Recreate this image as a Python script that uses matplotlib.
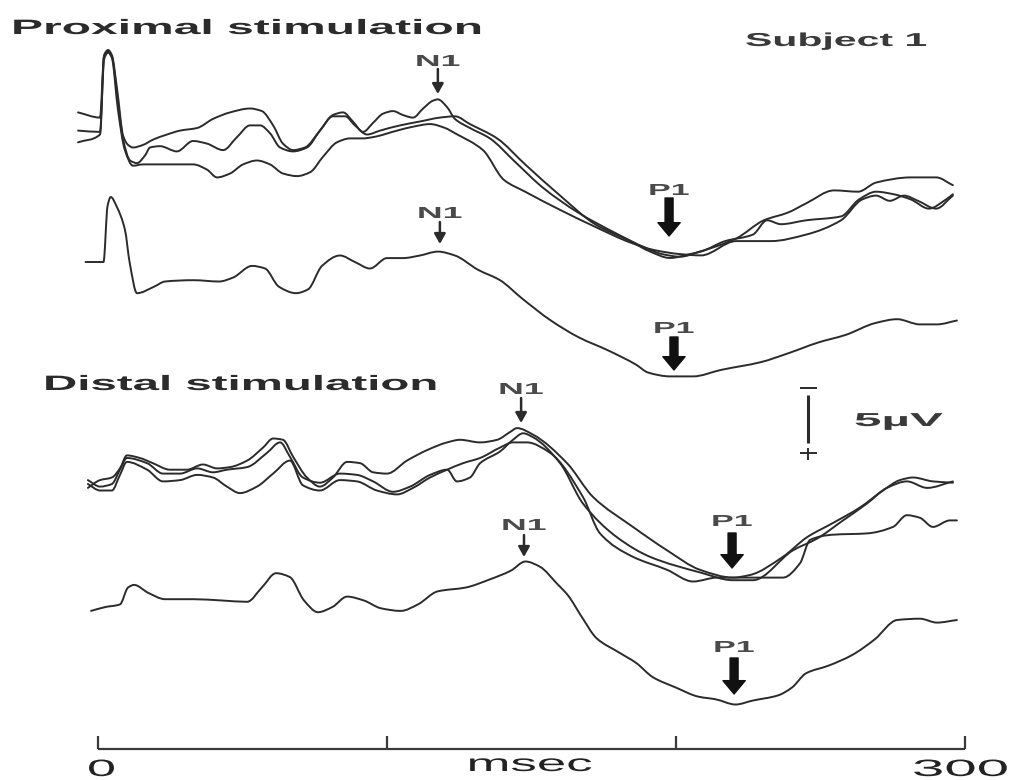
import numpy as np
import matplotlib
matplotlib.use("Agg")
import matplotlib.pyplot as plt
from matplotlib.patheffects import AbstractPathEffect
from matplotlib.transforms import Affine2D
from matplotlib.path import Path
from matplotlib.patches import PathPatch

# ---------------------------------------------------------------- data
# Evoked responses, subject 1: time in ms, amplitude in µV (negative up)

# Proximal stimulation, three single runs
prox_t1 = [-6.9, 0.7, 2.1, 3.5, 4.8, 6.6, 8.7, 10.4, 12.1, 15.6, 19.0, 23.9, 28.4, 34.3,
           39.8, 45.7, 52.6, 56.7, 60.6, 64.0, 67.5, 71.6, 76.8, 81.3, 84.8, 88.2, 91.7,
           95.2, 98.6, 102.1, 105.5, 109.0, 112.5, 115.9, 117.6, 120.8, 123.5, 128.7,
           135.6, 144.3, 154.0, 166.1, 179.2, 189.3, 195.2, 201.4, 208.3, 220.8, 230.4,
           238.8, 245.0, 254.7, 263.0, 269.2, 281.3, 290.0, 295.8]
prox_v1 = [-1.2, -0.8, -5.6, -6.0, -5.6, -3.0, 0.6, 1.3, 1.5, 1.3, 0.9, 0.5, 0.2, 0.0,
           -0.7, -1.2, -1.5, -1.3, -0.2, 1.2, 1.7, 1.5, 0.2, -1.0, -1.2, -0.5, 0.3,
           -0.4, -1.1, -1.3, -1.0, -0.8, -1.5, -2.1, -2.2, -1.6, -0.7, 0.0,
           0.8, 2.6, 4.6, 6.5, 8.1, 9.2, 9.7, 9.9, 9.5, 8.5, 7.1,
           6.5, 5.8, 4.8, 4.9, 4.2, 3.8, 3.8, 4.4]

prox_t2 = [-6.9, 0.7, 2.1, 3.5, 4.8, 6.6, 8.7, 11.1, 13.5, 16.3, 18.0, 21.5, 27.3, 32.9,
           37.7, 43.3, 48.1, 52.6, 56.1, 59.5, 63.0, 67.5, 72.3, 76.8, 81.3, 85.5, 88.9,
           93.1, 97.6, 104.5, 111.4, 118.3, 123.5, 128.7, 138.1, 147.8, 159.9, 172.0,
           184.1, 191.0, 197.9, 204.8, 208.7, 217.0, 226.6, 231.5, 236.3, 245.0, 257.1,
           263.3, 269.2, 275.4, 281.3, 287.5, 293.4, 295.8]
prox_v2 = [0.2, 0.3, -5.5, -5.9, -5.5, -2.6, 0.9, 2.5, 2.7, 2.1, 1.5, 1.4, 1.8, 1.0,
           1.2, 1.7, 0.7, -0.2, -0.2, 0.4, 1.5, 1.8, 1.5, 0.2, -0.9, -0.9, -0.2,
           0.5, 0.2, -0.2, -0.5, -0.8, -0.9, -0.3, 0.8, 2.8, 5.2, 7.4,
           8.7, 9.5, 10.0, 9.7, 9.5, 8.7, 8.2, 7.1, 7.4, 7.1, 6.8,
           5.5, 4.9, 5.1, 5.5, 6.2, 5.5, 5.1]

prox_t3 = [-6.9, 0.7, 2.1, 3.5, 4.8, 6.9, 9.3, 12.1, 15.6, 22.5, 32.9, 37.7, 41.2, 45.7,
           50.2, 55.0, 59.5, 64.0, 68.9, 73.4, 77.9, 82.7, 87.2, 91.7, 95.2, 103.5,
           109.0, 114.9, 120.1, 123.5, 133.2, 140.5, 147.8, 159.9, 172.0, 184.1, 192.7,
           201.4, 208.7, 220.8, 232.9, 245.0, 257.1, 264.4, 269.2, 274.0, 278.9, 283.7,
           290.0, 295.8]
prox_v3 = [1.1, 0.5, -5.3, -5.8, -5.4, -1.4, 1.7, 2.9, 2.8, 2.8, 2.8, 3.2, 3.8, 3.5,
           2.8, 2.5, 2.8, 3.5, 3.7, 3.4, 2.2, 1.1, 0.8, 0.8, 0.7, 0.2,
           -0.1, -0.3, 0.0, 0.4, 1.7, 4.0, 4.9, 6.3, 7.6, 8.8, 9.4,
           9.7, 9.8, 8.7, 8.7, 8.2, 7.1, 5.5, 5.2, 5.6, 5.2, 5.6,
           6.2, 5.2]

# Proximal stimulation, average
prox_avg_t = [-4.3, 1.9, 3.3, 4.4, 6.6, 9.3, 11.0, 13.5, 19.4, 23.2, 33.0, 41.9, 46.7,
              53.3, 57.8, 62.6, 68.5, 72.7, 77.5, 83.7, 88.9, 94.1, 100.0, 105.5, 111.4,
              117.6, 123.5, 131.5, 139.1, 146.7, 156.7, 166.4, 176.5, 186.2, 190.3,
              198.0, 205.9, 215.6, 229.4, 239.1, 249.1, 258.8, 268.9, 276.5, 284.4,
              290.3, 297.2]
prox_avg_v = [0.0, 0.0, -4.3, -5.0, -4.2, -2.5, 0.1, 2.4, 1.9, 1.5, 1.4, 1.5, 1.2,
              0.3, 0.5, 1.9, 2.4, 2.1, 0.3, -0.5, 0.0, 0.5, -0.3, -0.3, -0.5,
              -0.8, -0.5, 0.6, 1.4, 2.8, 4.5, 5.8, 6.8, 7.9, 8.5,
              8.8, 8.8, 8.3, 7.7, 7.0, 6.2, 5.6, 4.7, 4.4, 4.8,
              4.8, 4.5]

# Distal stimulation, three single runs
dist_tA = [-3.5, 0.7, 4.8, 7.6, 10.0, 14.5, 19.0, 24.9, 30.8, 36.3, 41.2, 45.7, 51.6,
           57.1, 60.6, 64.0, 67.5, 72.3, 76.8, 81.3, 86.2, 90.7, 95.2, 100.0, 106.9,
           113.8, 120.8, 125.3, 132.2, 138.1, 142.6, 145.0, 150.5, 162.3, 171.3, 185.1,
           196.9, 208.3, 219.7, 225.6, 237.0, 245.3, 254.3, 263.7, 271.6, 277.5, 282.0,
           288.9, 295.8]
dist_vA = [0.3, -0.3, -0.5, -1.2, -2.2, -2.0, -1.6, -1.1, -1.1, -1.5, -1.2, -1.3, -1.8,
           -2.8, -3.5, -3.4, -2.1, -0.5, 0.2, -0.5, -1.7, -1.6, -0.9, -0.8, -1.8,
           -2.6, -3.2, -3.4, -3.2, -3.4, -4.0, -4.3, -3.8, -1.6, 1.0, 3.3,
           5.1, 6.6, 7.2, 7.0, 5.6, 4.1, 3.0, 1.8, 0.5, -0.3, -0.5,
           -0.2, -0.1]

dist_tB = [-3.5, 0.7, 4.8, 7.6, 10.0, 17.0, 22.5, 28.4, 34.3, 39.8, 44.6, 51.6, 58.5,
           63.0, 66.4, 70.9, 76.8, 83.7, 89.6, 95.2, 102.1, 108.0, 114.9, 120.8, 124.2,
           128.7, 132.2, 139.1, 143.6, 147.1, 150.5, 159.9, 167.8, 179.6, 191.0, 208.3,
           219.7, 226.6, 240.5, 248.8, 257.8, 266.1, 273.0, 279.9, 286.9, 295.8]
dist_vB = [-0.3, 0.2, 0.0, -1.1, -2.0, -1.6, -0.8, -0.8, -1.2, -0.9, -1.1, -1.3, -2.4,
           -3.2, -2.1, -0.5, -0.1, -0.8, -0.7, -0.2, 0.6, 0.2, -0.7, -1.1, -0.2,
           -0.5, -1.6, -2.5, -3.4, -3.9, -3.6, -1.6, 1.5, 4.1, 5.6, 6.8,
           7.4, 7.4, 5.1, 4.2, 2.8, 1.5, 0.3, -0.2, 0.3, -0.2]

dist_tC = [-3.5, 0.7, 4.8, 7.6, 10.0, 17.0, 22.5, 28.4, 34.3, 39.8, 44.6, 49.1, 55.0,
           60.6, 66.4, 70.9, 76.8, 83.7, 89.6, 96.5, 103.5, 109.0, 114.9, 120.8, 126.3,
           132.2, 139.1, 143.6, 146.0, 148.4, 156.4, 167.8, 173.7, 185.1, 196.9, 205.9,
           214.2, 225.6, 237.0, 242.9, 246.4, 254.3, 266.1, 275.1, 279.9, 284.4, 288.9,
           294.8, 297.2]
dist_vC = [0.0, 0.5, 0.5, -0.7, -1.7, -1.1, -0.2, -0.3, -0.7, -0.5, 0.2, 0.7, 0.2,
           -0.8, -1.8, 0.1, 0.5, -0.3, -0.2, 0.5, 0.8, 0.3, -0.5, -1.1, -1.6,
           -2.0, -2.8, -3.2, -3.2, -3.2, -2.4, 1.0, 3.8, 5.6, 6.6, 7.5,
           7.2, 7.2, 7.2, 6.1, 4.3, 3.9, 3.8, 3.3, 2.4, 2.6, 3.3,
           2.8, 2.8]

# Distal stimulation, average
dist_avg_t = [-2.4, 2.6, 7.6, 10.4, 12.5, 17.3, 23.2, 33.0, 42.9, 51.6, 56.7, 61.6, 66.4,
              71.3, 76.1, 81.1, 86.2, 92.0, 97.9, 104.8, 110.7, 117.5, 127.3, 135.3,
              142.9, 147.9, 152.9, 158.8, 162.6, 167.5, 172.5, 180.3, 186.2, 192.0,
              200.0, 207.8, 213.7, 220.6, 226.5, 235.3, 240.1, 245.0, 252.9, 260.9,
              268.7, 276.5, 284.4, 290.3, 297.2]
dist_avg_v = [0.3, 0.0, -0.2, -1.5, -1.7, -1.1, -0.6, -0.6, -0.5, -0.4, -1.5, -2.6, -2.3,
              -0.5, 0.4, 0.0, -0.8, -0.5, 0.1, 0.3, -0.2, -1.2, -1.5, -2.1,
              -2.8, -3.5, -3.1, -1.8, -0.9, 0.8, 2.4, 3.5, 4.3, 5.4,
              6.2, 6.9, 7.1, 7.5, 7.2, 6.8, 6.2, 5.1, 4.5, 3.7,
              2.5, 1.0, 0.9, 1.2, 1.0]

# Component latencies (ms) for each row: single runs / average, proximal / distal
n1_latency = [117.6, 118.3, 146.4, 147.4]
p1_latency = [197.6, 199.3, 219.4, 220.1]

time_ticks = [0, 100, 200, 300]
time_tick_labels = ["0", "300"]
time_unit = "msec"
calib_uv = 5.0
calib_label = "5µV"

panel_titles = ["Proximal stimulation", "Distal stimulation"]
subject_label = "Subject 1"

# ---------------------------------------------------------------- layout
W, H, DPI = 1014, 780, 100
PX_PER_MS = 2.89
PX_PER_UV = 13.0
T0_PX = 98.0
INK = "#2b2b2b"
FONT = "Liberation Sans"

fig = plt.figure(figsize=(W / DPI, H / DPI), dpi=DPI)
fig.patch.set_facecolor("white")
ax = fig.add_axes([0, 0, 1, 1])
ax.set_xlim(-T0_PX / PX_PER_MS, (W - T0_PX) / PX_PER_MS)
ax.set_ylim(H / PX_PER_UV, 0)      # negative up
ax.axis("off")


def row(px):
    """Vertical position of a trace baseline, in µV units of the axes."""
    return px / PX_PER_UV


rows = {"prox": row(128), "prox_avg": row(262), "dist": row(484), "dist_avg": row(607)}


def trace(t, v, offset):
    """Draw a trace as a smooth shape-preserving cubic curve through its samples."""
    t = np.asarray(t, float)
    y = offset + np.asarray(v, float)
    h = np.diff(t)
    d = np.diff(y) / h
    m = np.zeros_like(y)
    m[0], m[-1] = d[0], d[-1]
    for k in range(1, len(y) - 1):
        if d[k - 1] * d[k] > 0:
            w1 = 2 * h[k] + h[k - 1]
            w2 = h[k] + 2 * h[k - 1]
            m[k] = (w1 + w2) / (w1 / d[k - 1] + w2 / d[k])
    verts = [(t[0], y[0])]
    codes = [Path.MOVETO]
    for k in range(len(y) - 1):
        verts += [(t[k] + h[k] / 3, y[k] + m[k] * h[k] / 3),
                  (t[k + 1] - h[k] / 3, y[k + 1] - m[k + 1] * h[k] / 3),
                  (t[k + 1], y[k + 1])]
        codes += [Path.CURVE4] * 3
    ax.add_patch(PathPatch(Path(verts, codes), fill=False, edgecolor=INK, lw=1.4,
                           joinstyle="round", capstyle="round"))


for t, v in [(prox_t1, prox_v1), (prox_t2, prox_v2), (prox_t3, prox_v3)]:
    trace(t, v, rows["prox"])
trace(prox_avg_t, prox_avg_v, rows["prox_avg"])
for t, v in [(dist_tA, dist_vA), (dist_tB, dist_vB), (dist_tC, dist_vC)]:
    trace(t, v, rows["dist"])
trace(dist_avg_t, dist_avg_v, rows["dist_avg"])


# ---------------------------------------------------------------- text helpers
class StretchX(AbstractPathEffect):
    """Draw text glyphs widened horizontally about the text origin."""

    def __init__(self, sx=1.0):
        super().__init__()
        self.sx = sx

    def draw_path(self, renderer, gc, tpath, affine, rgbFace=None):
        renderer.draw_path(gc, tpath, Affine2D().scale(self.sx, 1.0) + affine, rgbFace)


renderer = fig.canvas.get_renderer()


def wide_text(s, left_px, base_px, width_px, size, weight="normal", color=INK):
    txt = fig.text(left_px / W, 1 - base_px / H, s, ha="left", va="baseline",
                   fontsize=size, fontweight=weight, color=color, family=FONT)
    natural = txt.get_window_extent(renderer).width
    txt.set_path_effects([StretchX(width_px / natural)])
    return txt


def x_px(t):
    return ax.transData.transform((t, 0))[0]


# ---------------------------------------------------------------- titles
wide_text(panel_titles[0], 11, 34, 474, 15, weight="bold")
wide_text(panel_titles[1], 43, 390, 397, 15, weight="bold")
wide_text(subject_label, 745, 46, 182, 13.5, weight="bold", color="#3a3a3a")

# ---------------------------------------------------------------- N1 / P1 markers
n1_pos = [(69, 94, 66), (222, 244, 218), (398, 423, 394), (535, 557, 530)]
p1_pos = [(198, 236, 195), (337, 370, 333), (533, 568, 526), (658, 694, 652)]

for lat, (tail, tip, base) in zip(n1_latency, n1_pos):
    ax.annotate("", xy=(lat, row(tip)), xytext=(lat, row(tail)),
                arrowprops=dict(arrowstyle="-|>,head_length=0.5,head_width=0.28",
                                lw=1.8, color=INK, mutation_scale=12,
                                shrinkA=0, shrinkB=0))
    wide_text("N1", x_px(lat) - 23, base, 46, 11.5, weight="bold", color="#4a4a4a")

for lat, (tail, tip, base) in zip(p1_latency, p1_pos):
    ax.annotate("", xy=(lat, row(tip)), xytext=(lat, row(tail)),
                arrowprops=dict(arrowstyle="simple,head_length=0.6,head_width=1.0,tail_width=0.36",
                                color="#111111", mutation_scale=16,
                                shrinkA=0, shrinkB=0))
    wide_text("P1", x_px(lat) - 21, base, 42, 11.5, weight="bold", color="#4a4a4a")

# ---------------------------------------------------------------- calibration bar
cal_t = 245.7
cal_top = row(388)
half = 8.5 / PX_PER_MS
bar_kw = dict(color=INK, lw=1.4, solid_capstyle="butt")
ax.plot([cal_t - half, cal_t + half], [cal_top, cal_top], **bar_kw)
ax.plot([cal_t, cal_t], [cal_top + 0.5, cal_top + calib_uv - 0.75],
        color=INK, lw=2.2, solid_capstyle="butt")
ax.plot([cal_t - half, cal_t + half], [cal_top + calib_uv, cal_top + calib_uv], **bar_kw)
ax.plot([cal_t, cal_t], [cal_top + calib_uv - 0.4, cal_top + calib_uv + 0.55], **bar_kw)
wide_text(calib_label, 854, 426, 89, 13.5, weight="bold", color="#3a3a3a")

# ---------------------------------------------------------------- time scale
axis_y = row(749)
ax.plot([time_ticks[0], time_ticks[-1]], [axis_y, axis_y], color="#3a3a3a", lw=1.6,
        solid_capstyle="butt")
for tt in time_ticks:
    ax.plot([tt, tt], [axis_y, axis_y - 1.0], color="#3a3a3a", lw=1.6,
            solid_capstyle="butt")

wide_text(time_tick_labels[0], x_px(time_ticks[0]) - 11, 776, 29, 17, color="#222222")
wide_text(time_tick_labels[1], x_px(time_ticks[-1]) - 53, 776, 97, 17, color="#222222")
wide_text(time_unit, x_px(150) - 65, 771, 126, 17, color="#222222")

fig.savefig("out.png", dpi=DPI, facecolor="white")
